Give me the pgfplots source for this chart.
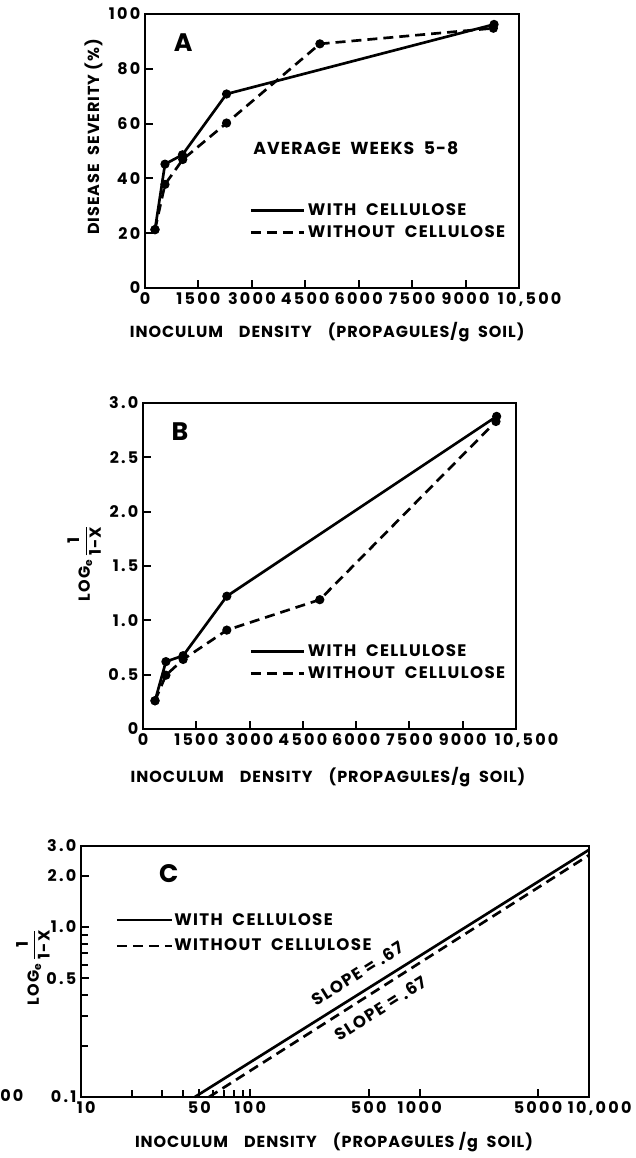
\documentclass[border=0pt]{standalone}
\usepackage{fontspec}
\setmainfont{Poppins}
\usepackage{amsmath}
\usepackage{pgfplots}
\pgfplotsset{compat=1.18}
\newcommand{\tfont}{\fontsize{12}{12}\selectfont\bfseries\addfontfeature{LetterSpace=14}}
\newcommand{\lfont}{\fontsize{12}{12}\selectfont\bfseries\addfontfeature{LetterSpace=6}}
\newcommand{\gfont}{\fontsize{12.5}{12.5}\selectfont\bfseries\addfontfeature{LetterSpace=8}}
\newcommand{\pfont}{\fontsize{19}{19}\selectfont\bfseries}
\begin{document}
\begin{tikzpicture}[font=\bfseries]
\useasboundingbox (0,0) rectangle (477pt,868.5pt);
\pgfplotsset{
  myax/.style={
    scale only axis, anchor=north west,
    axis line style={line width=1.8pt},
    every tick/.style={black, line width=1.5pt},
    tick align=inside, major tick length=6pt, minor tick length=5pt,
    xtick pos=bottom, ytick pos=left,
    scaled x ticks=false, scaled y ticks=false,
    /pgf/number format/assume math mode=true,
    ticklabel style={font=\tfont},
    label style={font=\lfont},
    clip=false,
    legend cell align=left,
    legend style={draw=none, fill=none, inner sep=0pt, font=\gfont, anchor=west},
  },
  wc/.style={black, line width=2pt, mark=*, mark size=2.4pt},
  wo/.style={black, line width=2pt, dash pattern=on 7.5pt off 4.5pt, mark=*, mark size=2.4pt, mark options={solid}},
}
% ---------------- Panel A
\begin{axis}[myax, at={(108.75pt,858pt)}, width=280.5pt, height=205.5pt,
  xmin=0, xmax=10500, ymin=0, ymax=100,
  xtick={0,1500,3000,4500,6000,7500,9000,10500},
  xticklabels={0,1500,3000,4500,6000,7500,9000,{\hspace*{16pt}10,500}},
  ytick={0,20,40,60,80,100},
  xlabel={INOCULUM\quad DENSITY\quad (PROPAGULES/g\ \ SOIL)},
  ylabel={DISEASE\ \ SEVERITY\ (\%)},
  xlabel style={at={(axis description cs:0.487,-0.160)}, anchor=center},
  ylabel style={at={(axis description cs:-0.138,0.551)}, anchor=center},
  legend image code/.code={\draw[#1] (0pt,0pt) -- (39.75pt,0pt);},
  legend style={at={(axis description cs:0.286,0.243)}, xshift=-2pt, row sep=2pt},
]
\addplot[wc] coordinates {(280,21.3)(561,45.2)(1050,48.6)(2290,70.8)(9800,96.2)};
\addplot[wo] coordinates {(280,21.3)(561,37.8)(1060,46.9)(2290,60.2)(4910,89.1)(9780,94.8)};
\legend{WITH\ \ CELLULOSE, WITHOUT\ \ CELLULOSE}
\node[font=\pfont, anchor=center] at (axis description cs:0.102,0.894) {A};
\node[font=\fontsize{13}{13}\selectfont\bfseries\addfontfeature{LetterSpace=6}, anchor=west, inner sep=0pt] at (axis description cs:0.289,0.511) {AVERAGE\ \ WEEKS\ \ 5-8};
\end{axis}
% ---------------- Panel B
\begin{axis}[myax, at={(107.25pt,566.25pt)}, width=279.75pt, height=244.5pt,
  xmin=0, xmax=10500, ymin=0, ymax=3,
  xtick={0,1500,3000,4500,6000,7500,9000,10500},
  xticklabels={0,1500,3000,4500,6000,7500,9000,{\hspace*{16pt}10,500}},
  ytick={0,0.5,1,1.5,2,2.5,3},
  yticklabels={0,0.5,1.0,1.5,2.0,2.5,3.0},
  xlabel={INOCULUM\quad DENSITY\quad (PROPAGULES/g\ \ SOIL)},
  ylabel={LOG$_{\text{e}}$\,$\dfrac{\text{1}}{\text{1-X}}$},
  xlabel style={at={(axis description cs:0.496,-0.147)}, anchor=center},
  ylabel style={at={(axis description cs:-0.158,0.509)}, anchor=center},
  legend image code/.code={\draw[#1] (0pt,0pt) -- (39.75pt,0pt);},
  legend style={at={(axis description cs:0.292,0.204)}, xshift=-2pt, row sep=2pt},
]
\addplot[wc] coordinates {(338,0.26)(645,0.62)(1130,0.675)(2360,1.222)(9955,2.877)};
\addplot[wo] coordinates {(338,0.26)(645,0.495)(1130,0.64)(2360,0.91)(4977,1.19)(9936,2.83)};
\legend{WITH\ \ CELLULOSE, WITHOUT\ \ CELLULOSE}
\node[font=\pfont, anchor=center] at (axis description cs:0.099,0.912) {B};
\end{axis}
% ---------------- Panel C
\begin{axis}[myax, at={(60.75pt,234pt)}, width=381pt, height=188.25pt,
  xmode=log, ymode=log,
  xmin=10, xmax=10000, ymin=0.1, ymax=3,
  xtick={10,50,100,500,1000,5000,10000},
  xticklabels={\hspace*{8pt}10,50,100,500,1000,5000,{\hspace*{16pt}10,000}},
  minor xtick={20,30,40,60,70,80,90},
  ytick={0.1,0.5,1,2,3},
  yticklabels={0.1,0.5,1.0,2.0,3.0},
  minor ytick={0.2,0.3,0.4,0.6,0.7,0.8,0.9},
  xlabel={INOCULUM\quad DENSITY\quad (PROPAGULES /g\ \ SOIL)},
  ylabel={LOG$_{\text{e}}$\,$\dfrac{\text{1}}{\text{1-X}}$},
  xlabel style={at={(axis description cs:0.498,-0.179)}, anchor=center},
  ylabel style={at={(axis description cs:-0.0945,0.518)}, anchor=center},
  legend image code/.code={\draw[#1] (0pt,0pt) -- (41pt,0pt);},
  legend style={at={(axis description cs:0.0728,0.653)}, xshift=-2pt, row sep=5pt, nodes={inner xsep=1pt}},
]
\addplot[black, line width=2pt] coordinates {(47,0.1)(10000,2.85)}
  node[pos=0.437, sloped, above=4.5pt, font=\gfont] {SLOPE = .67};
\addplot[black, line width=2pt, dash pattern=on 7.5pt off 4.5pt] coordinates {(57,0.1)(10000,2.65)}
  node[pos=0.427, sloped, below=4pt, font=\gfont] {SLOPE = .67};
\legend{WITH\ \ CELLULOSE, WITHOUT\ \ CELLULOSE}
\node[font=\pfont, anchor=center] at (axis description cs:0.173,0.892) {C};
\end{axis}
\node[font=\tfont, anchor=west, inner sep=0pt] at (0pt,46.5pt) {00};
\end{tikzpicture}
\end{document}
